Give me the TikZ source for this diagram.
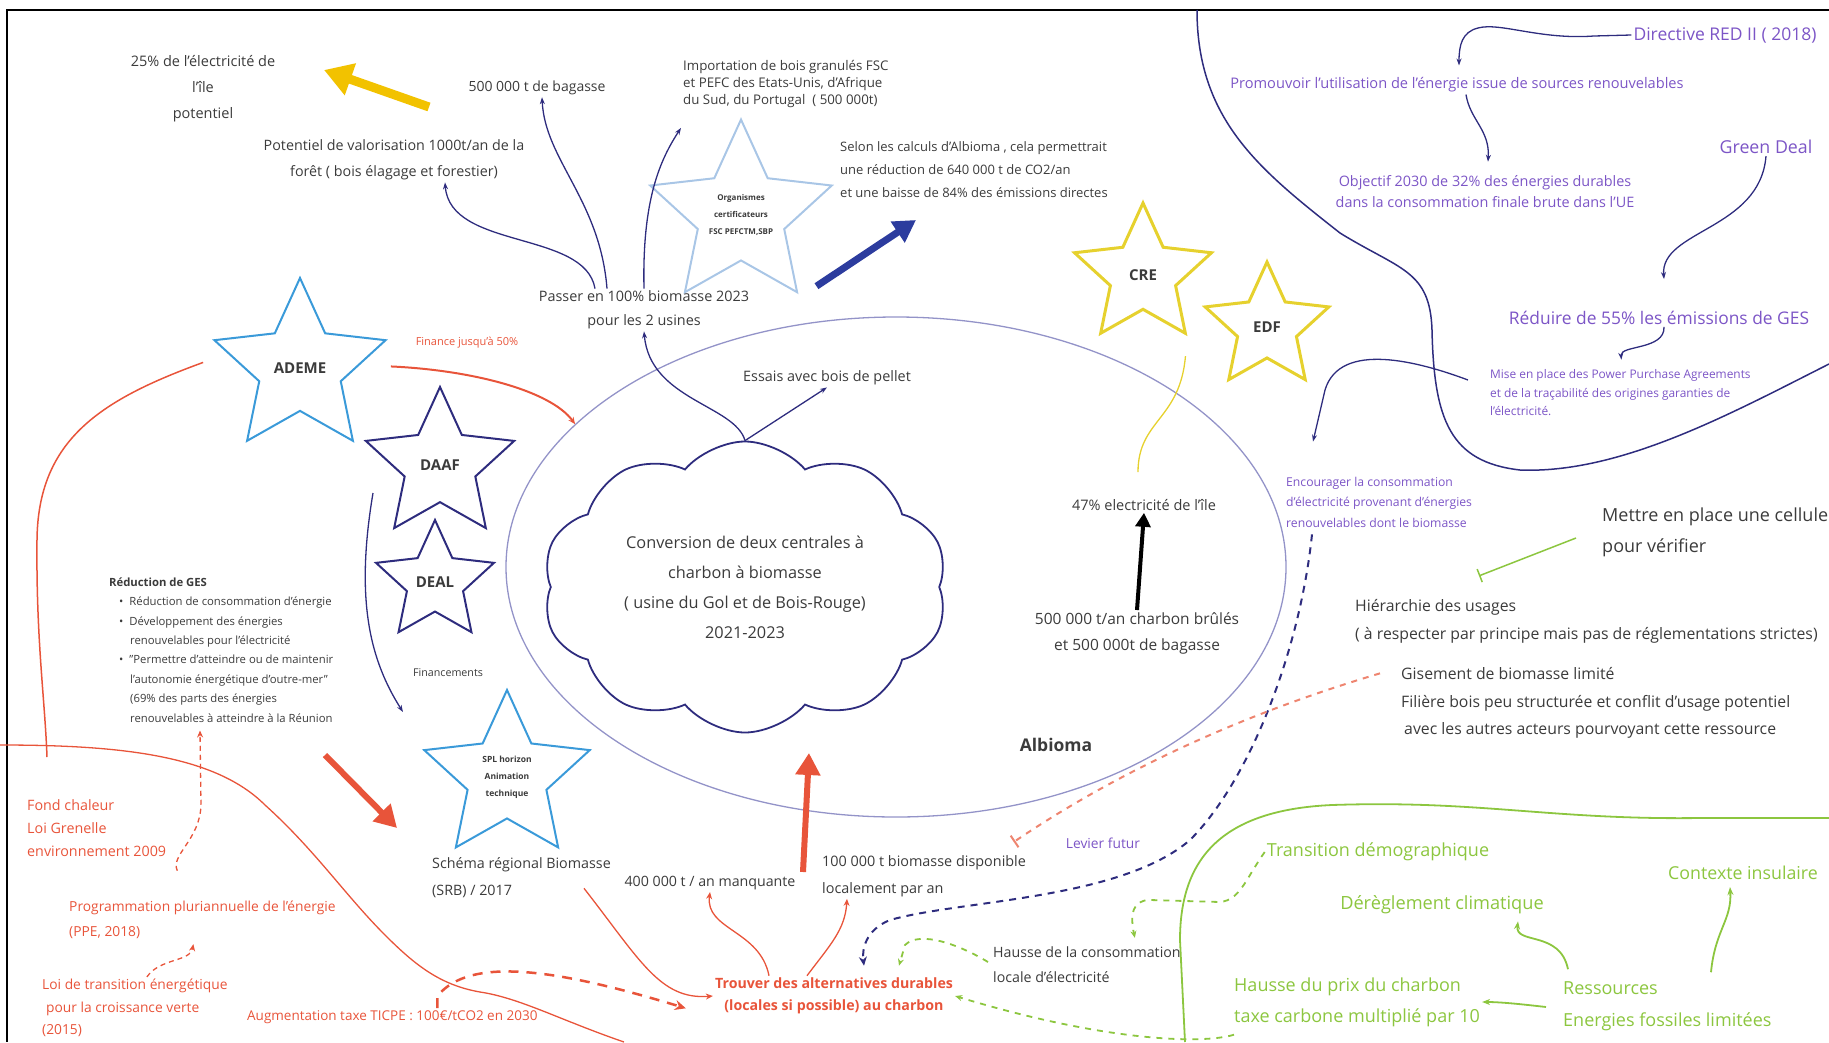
\documentclass[tikz,border=0pt]{standalone}
\usepackage{fontspec}
\setmainfont{Open Sans}
\usepackage{tikz}
\usetikzlibrary{shapes.geometric, shapes.symbols, arrows.meta, calc}
\definecolor{ink}{HTML}{3B3B3B}
\definecolor{navy}{HTML}{2E2C7E}
\definecolor{skyb}{HTML}{3A9AD9}
\definecolor{paleb}{HTML}{A9C6E6}
\definecolor{gold}{HTML}{E6D12E}
\definecolor{amber}{HTML}{F2C200}
\definecolor{royal}{HTML}{2C3C9E}
\definecolor{tomato}{HTML}{E8543A}
\definecolor{salmon}{HTML}{EE8570}
\definecolor{lime}{HTML}{8CC63F}
\definecolor{violet}{HTML}{7C55C6}
\definecolor{lilac}{HTML}{9393C8}
\newcommand{\fs}[2]{\fontsize{#1}{#2}\selectfont}

\begin{document}
\begin{tikzpicture}[x=1pt, y=-1pt,
  lbl/.style={align=center, inner sep=2pt, text=ink},
  lft/.style={lbl, align=left, anchor=west},
  agency/.style={star, star points=5, star point ratio=2.1, inner sep=0pt,
                 line width=2pt, align=center, text=ink, font=\bfseries\fs{15}{18}},
  navyarrow/.style={draw=navy, line width=1.3pt, -{Stealth[length=7pt,width=5pt]}},
  redarrow/.style={draw=tomato, line width=1.3pt, -{Stealth[length=7pt,width=6pt]}},
  reddash/.style={draw=tomato, line width=1.3pt, dash pattern=on 5pt off 4pt,
                  -{Stealth[length=7pt,width=6pt]}},
  limearrow/.style={draw=lime, line width=1.8pt, -{Stealth[length=8pt,width=6pt]}},
  limedash/.style={draw=lime, line width=1.8pt, dash pattern=on 6pt off 6pt,
                   -{Stealth[length=7pt,width=6pt]}},
  bigarrow/.style={line width=7pt, -{Triangle[length=22pt,width=24pt]}}]
\useasboundingbox (0,0) rectangle (1829,1042);
\draw[line width=2pt] (1829,10) -- (7,10) -- (7,1042);

% zones
\draw[tomato, line width=1.3pt] (0,745) .. controls (120,745) and (215,755) .. (265,805)
  .. controls (315,850) and (345,895) .. (385,935) .. controls (415,965) and (440,985) .. (480,992)
  .. controls (520,998) and (560,1020) .. (624,1042);
\draw[lime, line width=1.8pt] (1829,818) -- (1700,818) .. controls (1550,820) and (1480,800) .. (1332,805)
  .. controls (1220,810) and (1180,860) .. (1180,940) -- (1185,1042);
\draw[navy, line width=1.5pt] (1197,10) .. controls (1197,120) and (1260,170) .. (1340,233)
  .. controls (1400,270) and (1430,270) .. (1432,330) .. controls (1434,420) and (1450,462) .. (1520,470)
  .. controls (1620,474) and (1730,414) .. (1829,364);

\node[ellipse, draw=lilac, line width=1.3pt, minimum width=780pt, minimum height=500pt] (albiomazone) at (896,567) {};
\node[cloud, cloud puffs=10, cloud puff arc=100, cloud ignores aspect, draw=navy, line width=1.8pt,
      minimum width=405pt, minimum height=291pt, lbl, font=\fs{16.3}{30}] (cloud) at (745,587)
  {Conversion de deux centrales à\\charbon à biomasse\\( usine du Gol et de Bois-Rouge)\\2021-2023};

% acteurs
\node[agency, draw=skyb, minimum size=180pt] (ademe) at (300,368) {ADEME};
\node[agency, draw=navy, minimum size=156pt] (daaf) at (440,465) {DAAF};
\node[agency, draw=navy, minimum size=124pt] (deal) at (435,582) {DEAL};
\node[agency, draw=skyb, minimum size=174pt, font=\bfseries\fs{8.5}{17}] (spl) at (507,777) {SPL horizon\\Animation\\technique};
\node[agency, draw=paleb, minimum size=172pt, font=\bfseries\fs{8}{17}] (organ) at (741,215) {Organismes\\certificateurs\\FSC PEFCTM,SBP};
\node[agency, draw=gold, line width=3pt, minimum size=144pt] (cre) at (1143,275) {CRE};
\node[agency, draw=gold, line width=3pt, minimum size=130pt] (edf) at (1267,327) {EDF};

\node[lbl, font=\fs{14.5}{26}] (elec25) at (203,89) {25\% de l'électricité de\\l'île\\potentiel};
\node[lbl, font=\fs{14.3}{26}] (valor) at (394,160) {Potentiel de valorisation 1000t/an de la\\forêt ( bois élagage et forestier)};
\node[lbl, font=\fs{14}{16}] (bagasse) at (537,88) {500 000 t de bagasse};
\node[lft, font=\fs{13.3}{17}] (import) at (681,84) {Importation de bois granulés FSC\\et PEFC des Etats-Unis, d'Afrique\\du Sud, du Portugal~~( 500 000t)};
\node[lft, font=\fs{13}{23}] (selon) at (838,170) {Selon les calculs d'Albioma , cela permettrait\\une réduction de 640 000 t de CO2/an\\et une baisse de 84\% des émissions directes};
\node[lbl, font=\fs{14.4}{24}] (passer) at (644,310) {Passer en 100\% biomasse 2023\\pour les 2 usines};
\node[lbl, font=\fs{14.4}{16}] (essais) at (827,378) {Essais avec bois de pellet};
\node[lbl, text=tomato, font=\fs{11}{12}] (finance) at (467,343) {Finance jusqu'à 50\%};
\node[lft, font=\fs{11.3}{19.4}] (reduc) at (107,650) {\textbf{Réduction de GES}\\
  \hspace*{10pt}\textbullet\hspace{6pt}Réduction de consommation d'énergie\\
  \hspace*{10pt}\textbullet\hspace{6pt}Développement des énergies\\
  \hspace*{21pt}renouvelables pour l'électricité\\
  \hspace*{10pt}\textbullet\hspace{6pt}"Permettre d'atteindre ou de maintenir\\
  \hspace*{21pt}l'autonomie énergétique d'outre-mer"\\
  \hspace*{21pt}(69\% des parts des énergies\\
  \hspace*{21pt}renouvelables à atteindre à la Réunion};
\node[lbl, font=\fs{10.7}{14}] (financ) at (448,673) {Financements};
\node[lft, font=\fs{14.3}{27}] (schema) at (430,878) {Schéma régional Biomasse\\(SRB) / 2017};
\node[lft, text=tomato, font=\fs{14.3}{23}] (fond) at (25,828) {Fond chaleur\\Loi Grenelle\\environnement 2009};
\node[lft, text=tomato, font=\fs{13.8}{25}] (ppe) at (67,920) {Programmation pluriannuelle de l'énergie\\(PPE, 2018)};
\node[lft, text=tomato, font=\fs{13.8}{22.5}] (loite) at (40,1008) {Loi de transition énergétique\\\hspace*{4pt}pour la croissance verte\\(2015)};
\node[lft, text=tomato, font=\fs{13.5}{16}] (ticpe) at (245,1017) {Augmentation taxe TICPE : 100€/tCO2 en 2030};
\node[lbl, font=\fs{14.2}{16}] (manq) at (710,883) {400 000 t / an manquante};
\node[lft, font=\fs{14.4}{27}] (dispo) at (820,876) {100 000 t biomasse disponible\\localement par an};
\node[lbl, text=tomato, font=\bfseries\fs{14.2}{22}] (trouver) at (834,996) {Trouver des alternatives durables\\(locales si possible) au charbon};
\node[lbl, font=\bfseries\fs{17.5}{18}] (albioma) at (1056,745) {Albioma};
\node[lbl, font=\fs{14.5}{16}] (elec47) at (1144,505) {47\% electricité de l'île};
\node[lbl, font=\fs{15.5}{26}] (charbon) at (1137,633) {500 000 t/an charbon brûlés\\et 500 000t de bagasse};
\node[lft, text=violet, font=\fs{12.2}{20.5}] (encour) at (1284,502) {Encourager la consommation\\d'électricité provenant d'énergies\\renouvelables dont le biomasse};
\node[lft, text=violet, font=\fs{11.9}{18.5}] (mise) at (1488,393) {Mise en place des Power Purchase Agreements\\et de la traçabilité des origines garanties de\\l'électricité.};
\node[lbl, text=violet, font=\fs{17.5}{18}] (directive) at (1725,35) {Directive RED II ( 2018)};
\node[lbl, text=violet, font=\fs{14.6}{16}] (promou) at (1457,85) {Promouvoir l'utilisation de l'énergie issue de sources renouvelables};
\node[lbl, text=violet, font=\fs{14.4}{21}] (objectif) at (1485,192) {Objectif 2030 de 32\% des énergies durables\\dans la consommation finale brute dans l'UE};
\node[lbl, text=violet, font=\fs{17.8}{20}] (greendeal) at (1766,147) {Green Deal};
\node[lbl, text=violet, font=\fs{17.4}{20}] (reduire) at (1659,318) {Réduire de 55\% les émissions de GES};
\node[lft, font=\fs{18}{31}] (mettre) at (1600,532) {Mettre en place une cellule\\pour vérifier};
\node[lft, font=\fs{15.8}{28}] (hierar) at (1353,621) {Hiérarchie des usages\\( à respecter par principe mais pas de réglementations strictes)};
\node[lft, font=\fs{15.8}{27.5}] (gisement) at (1399,703) {Gisement de biomasse limité\\Filière bois peu structurée et conflit d'usage potentiel\\\hspace*{3pt}avec les autres acteurs pourvoyant cette ressource};
\node[lbl, text=violet, font=\fs{13.8}{16}] (levier) at (1103,843) {Levier futur};
\node[lft, font=\fs{14.2}{25}] (hausseconso) at (991,965) {Hausse de la consommation\\locale d'électricité};
\node[lbl, text=lime, font=\fs{18}{20}] (transdemo) at (1378,852) {Transition démographique};
\node[lbl, text=lime, font=\fs{18.2}{20}] (dereg) at (1442,905) {Dérèglement climatique};
\node[lbl, text=lime, font=\fs{17.8}{20}] (contexte) at (1743,873) {Contexte insulaire};
\node[lft, text=lime, font=\fs{18}{31}] (hausseprix) at (1232,1002) {Hausse du prix du charbon\\taxe carbone multiplié par 10};
\node[lft, text=lime, font=\fs{18}{32}] (ressources) at (1561,1006) {Ressources\\Energies fossiles limitées};

\coordinate (ambertail) at (429,107);
\coordinate (ambertip) at (324,70);
\coordinate (co2tip) at (916,220);
\coordinate (srbtail) at (325,755);
\coordinate (srbtip) at (397,828);
\coordinate (uptail) at (803,872);
\coordinate (uptip) at (809,753);
\coordinate (ademeend) at (47,757);

% thick arrows
\draw[bigarrow, amber, line width=9pt, -{Triangle[length=28pt,width=32pt]}] (ambertail) -- (ambertip);
\draw[bigarrow, royal] ($(organ.-54)+(18,-8)$) -- (co2tip);
\draw[bigarrow, tomato, line width=6pt] (srbtail) -- (srbtip);
\draw[bigarrow, tomato, line width=6pt] (uptail) -- (uptip);
\draw[black, line width=4pt, -{Triangle[length=14pt,width=15pt]}] (charbon.north) -- (elec47.south);

% Albioma
\draw[navyarrow] ($(passer.north)+(-49,0)$) .. controls (585,230) and (450,250) .. ($(valor.south)+(51,0)$);
\draw[navyarrow] ($(passer.north)+(-37,0)$) .. controls (600,200) and (545,160) .. ($(bagasse.south)+(5,0)$);
\draw[navyarrow] (passer.north) .. controls (642,200) and (660,160) .. ($(import.south west)+(0,18)$);
\draw[navyarrow] (cloud.north) .. controls (735,405) and (650,400) .. (passer.south);
\draw[navyarrow] (cloud.north) -- (essais.south);
\draw[gold, line width=1.3pt] ($(cre.-54)+(-2,20)$) .. controls (1180,420) and (1138,420) .. ($(elec47.north)+(-6,-25)$);

% acteurs publics
\draw[redarrow, line width=2pt] ($(ademe.18)+(3,27)$) .. controls (470,370) and (550,390) .. (albiomazone.156);
\draw[tomato, line width=1.5pt] ($(ademe.162)+(-9,23)$) .. controls (100,400) and (38,440) .. (37,540)
  .. controls (36,640) and (45,700) .. (ademeend);
\draw[navyarrow] ($(daaf.center)+(-67,28)$) .. controls (355,600) and (370,660) .. ($(spl.center)+(-104,-65)$);
\draw[reddash] ($(fond.south east)+(9,12)$) .. controls (170,855) and (200,840) .. (201,805) -- ($(reduc.south west)+(93,6)$);
\draw[reddash] ($(loite.north)+(12,0)$) .. controls (160,958) and (190,962) .. ($(ppe.south)+(-9,3)$);
\draw[tomato, line width=2.5pt, dash pattern=on 10pt off 8pt, -{Stealth[length=11pt,width=10pt]}]
  ($(ticpe.north)+(45,0)$) -- ++(0,-12) .. controls (470,955) and (560,970) .. ($(trouver.south west)+(-27,-8)$);
\draw[redarrow] ($(schema.south east)+(-29,-12)$) .. controls (640,960) and (660,1000) .. (trouver.west);
\draw[redarrow] ($(trouver.north)+(-65,0)$) .. controls (760,930) and (705,930) .. (manq.south);
\draw[redarrow] ($(trouver.north)+(-27,0)$) .. controls (830,945) and (845,930) .. ($(dispo.south west)+(27,0)$);

% Union europeenne
\draw[navyarrow] (directive.west) -- (1594,36) .. controls (1540,40) and (1500,22) .. (1478,28)
  .. controls (1462,32) and (1459,45) .. ($(promou.north)+(2,-10)$);
\draw[navyarrow] ($(promou.south)+(9,0)$) .. controls (1470,120) and (1490,130) .. ($(objectif.north)+(3,-12)$);
\draw[navyarrow] (greendeal.south) .. controls (1760,230) and (1660,230) .. ($(reduire.north)+(5,-30)$);
\draw[navyarrow] ($(reduire.south)+(5,0)$) .. controls (1665,350) and (1620,345) .. ($(mise.north)+(1,-8)$);
\draw[navyarrow] ($(mise.west)+(-20,-13)$) .. controls (1420,362) and (1340,340) .. (1325,390) -- ($(encour.north west)+(29,-33)$);
\draw[navy, line width=2pt, dash pattern=on 7pt off 6pt, -{Stealth[length=9pt,width=8pt]}]
  ($(encour.south west)+(28,5)$) .. controls (1300,650) and (1250,780) .. (1190,840)
  .. controls (1120,900) and (960,900) .. (890,920) .. controls (865,930) and (862,950) .. ($(trouver.north)+(30,-10)$);
\draw[salmon, line width=2pt, dash pattern=on 6pt off 6pt, -{Bar[width=14pt]}]
  ($(gisement.north west)+(-19,8)$) .. controls (1290,700) and (1150,750) .. ($(levier.west)+(-50,-1)$);
\draw[lime, line width=1.5pt, -{Bar[width=14pt]}] ($(mettre.west)+(-24,6)$) -- ($(hierar.north west)+(126,-21)$);

% contexte
\draw[limedash] ($(hausseconso.west)+(-3,-3)$) .. controls (960,945) and (920,930) .. (905,945) -- ($(trouver.north)+(65,-10)$);
\draw[limedash] (transdemo.west) .. controls (1245,880) and (1240,900) .. (1220,902) -- (1150,900)
  .. controls (1132,900) and (1130,915) .. ($(hausseconso.north east)+(-48,-7)$);
\draw[limedash] ($(hausseprix.south west)+(2,6)$) .. controls (1200,1045) and (1100,1040) .. (trouver.east);
\draw[limearrow] ($(ressources.north west)+(7,-10)$) .. controls (1560,930) and (1515,945) .. ($(dereg.south)+(76,5)$);
\draw[limearrow] ($(ressources.north west)+(150,-7)$) .. controls (1715,930) and (1732,920) .. ($(contexte.south)+(-13,5)$);
\draw[limearrow] ($(ressources.west)+(-15,1)$) .. controls (1520,1004) and (1500,1002) .. (hausseprix.east);
\end{tikzpicture}
\end{document}
